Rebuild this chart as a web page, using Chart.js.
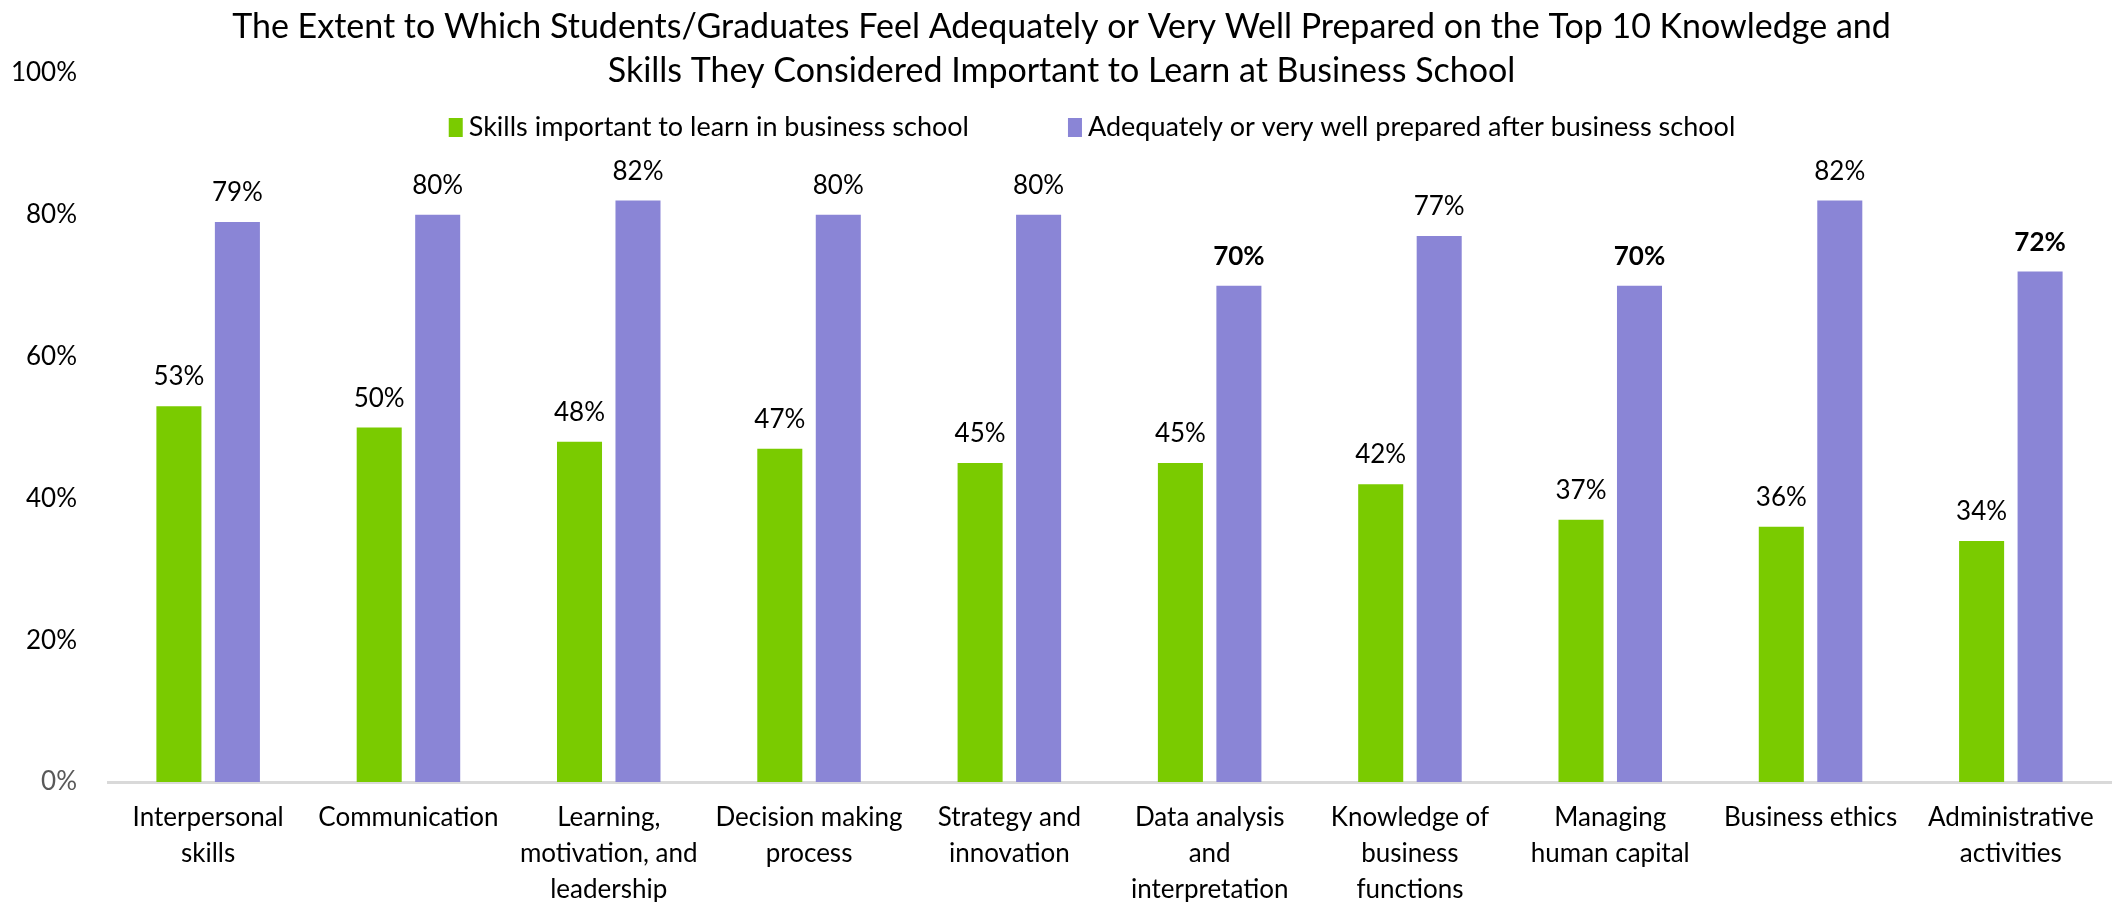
<!DOCTYPE html>
<html>
<head>
<meta charset="utf-8">
<script src="https://cdn.jsdelivr.net/npm/chart.js@4.4.1/dist/chart.umd.min.js"></script>
<style>
  html, body { margin: 0; padding: 0; background: #ffffff; }
  #wrap { width: 2123px; height: 902px; }
</style>
</head>
<body>
<div id="wrap"><canvas id="chart" width="2123" height="902"></canvas></div>
<script>
// ---- data ----
const categories = [
  ["Interpersonal", "skills"],
  ["Communication"],
  ["Learning,", "motivation, and", "leadership"],
  ["Decision making", "process"],
  ["Strategy and", "innovation"],
  ["Data analysis", "and", "interpretation"],
  ["Knowledge of", "business", "functions"],
  ["Managing", "human capital"],
  ["Business ethics"],
  ["Administrative", "activities"]
];
const importantValues = [53, 50, 48, 47, 45, 45, 42, 37, 36, 34];
const preparedValues  = [79, 80, 82, 80, 80, 70, 77, 70, 82, 72];
const preparedBold    = [false, false, false, false, false, true, false, true, false, true];
const seriesNames = [
  "Skills important to learn in business school",
  "Adequately or very well prepared after business school"
];
const titleLines = [
  "The Extent to Which Students/Graduates Feel Adequately or Very Well Prepared on the Top 10 Knowledge and",
  "Skills They Considered Important to Learn at Business School"
];
const yTickStep = 20;
const yMax = 100;

// ---- styling ----
const FONT = "Lato, 'Open Sans', sans-serif";
const GREEN = "#7acb00";
const PURPLE = "#8a85d6";
const TEXT = "#000000";

// value labels above each bar
const valueLabels = {
  id: "valueLabels",
  afterDatasetsDraw(chart) {
    const ctx = chart.ctx;
    ctx.save();
    ctx.fillStyle = TEXT;
    ctx.textAlign = "center";
    ctx.textBaseline = "alphabetic";
    chart.data.datasets.forEach((ds, di) => {
      const meta = chart.getDatasetMeta(di);
      meta.data.forEach((bar, i) => {
        const bold = ds.boldLabels && ds.boldLabels[i];
        ctx.font = (bold ? "bold " : "") + "26px " + FONT;
        ctx.fillText(ds.data[i] + "%", bar.x, bar.y - 21);
      });
    });
    ctx.restore();
  }
};

// title and legend drawn in the top band
const header = {
  id: "header",
  afterDraw(chart) {
    const ctx = chart.ctx;
    const cx = chart.width / 2;
    ctx.save();
    ctx.fillStyle = TEXT;
    ctx.textAlign = "center";
    ctx.textBaseline = "alphabetic";
    ctx.font = "34px " + FONT;
    ctx.fillText(titleLines[0], cx, 38);
    ctx.fillText(titleLines[1], cx, 82);

    // legend
    ctx.font = "27px " + FONT;
    const boxW = 14, boxH = 19, boxGap = 6, itemGap = 99;
    const colors = chart.data.datasets.map(d => d.backgroundColor);
    const widths = seriesNames.map(n => ctx.measureText(n).width);
    let total = 0;
    widths.forEach((w, i) => { total += boxW + boxGap + w + (i < widths.length - 1 ? itemGap : 0); });
    let x = 1092 - total / 2;
    const baseY = 136;
    ctx.textAlign = "left";
    seriesNames.forEach((name, i) => {
      ctx.fillStyle = colors[i];
      ctx.fillRect(x, baseY - boxH + 1, boxW, boxH);
      ctx.fillStyle = TEXT;
      ctx.fillText(name, x + boxW + boxGap, baseY);
      x += boxW + boxGap + widths[i] + itemGap;
    });
    ctx.restore();
  }
};

function build() {
  const ctx = document.getElementById("chart").getContext("2d");
  new Chart(ctx, {
    type: "bar",
    data: {
      labels: categories,
      datasets: [
        {
          label: seriesNames[0],
          data: importantValues,
          backgroundColor: GREEN,
          categoryPercentage: 0.584,
          barPercentage: 0.77
        },
        {
          label: seriesNames[1],
          data: preparedValues,
          boldLabels: preparedBold,
          backgroundColor: PURPLE,
          categoryPercentage: 0.584,
          barPercentage: 0.77
        }
      ]
    },
    options: {
      responsive: false,
      animation: false,
      devicePixelRatio: 1,
      layout: { padding: { top: 73, left: 8, right: 12, bottom: 0 } },
      plugins: {
        legend: { display: false },
        title: { display: false },
        tooltip: { enabled: false }
      },
      scales: {
        x: {
          grid: { display: false, drawTicks: false },
          border: { display: true, color: "#d9d9d9", width: 3 },
          ticks: {
            color: TEXT,
            font: { family: FONT, size: 26, lineHeight: 36 / 26 },
            padding: 18,
            maxRotation: 0,
            autoSkip: false
          },
          afterFit(scale) { scale.height = 120; }
        },
        y: {
          min: 0,
          max: yMax,
          grid: { display: false, drawTicks: false },
          border: { display: false },
          ticks: {
            stepSize: yTickStep,
            color: (c) => (c.tick && c.tick.value === 0 ? "#595959" : TEXT),
            font: { family: FONT, size: 26 },
            padding: 31,
            callback: (v) => v + "%"
          },
          afterFit(scale) { scale.width = 100; }
        }
      }
    },
    plugins: [valueLabels, header]
  });
}

if (document.fonts && document.fonts.load) {
  Promise.all([
    document.fonts.load("26px Lato"),
    document.fonts.load("bold 26px Lato")
  ]).then(build, build);
} else {
  build();
}
</script>
</body>
</html>
